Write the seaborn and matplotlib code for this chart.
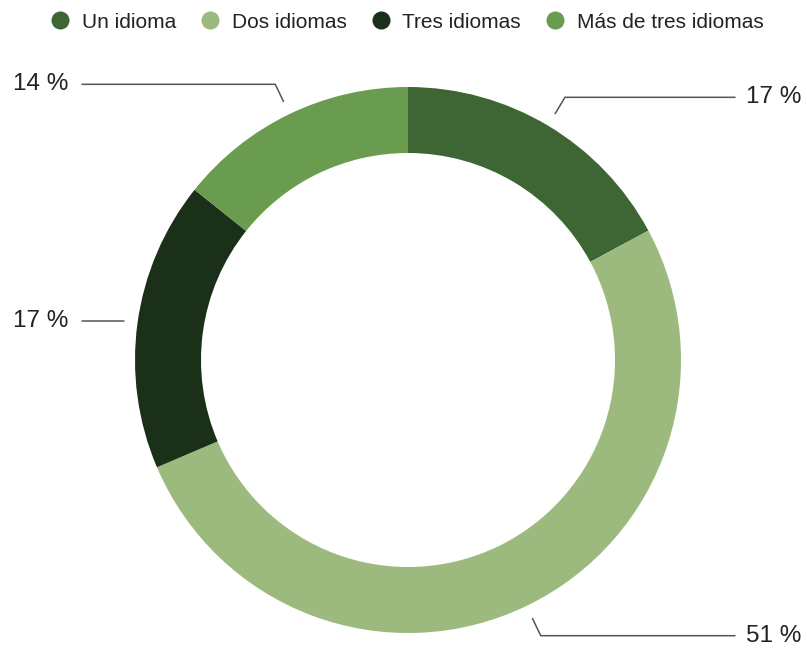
import numpy as np
import matplotlib.pyplot as plt
import seaborn as sns
from matplotlib.lines import Line2D

sns.set_theme(style="white")
plt.rcParams['font.family'] = ['Liberation Sans', 'DejaVu Sans']

# ── Data ──────────────────────────────────────────────
categories = ["Un idioma", "Dos idiomas", "Tres idiomas", "Más de tres idiomas"]
counts = [6, 18, 6, 5]
colors = ["#3e6534", "#9dba7e", "#1b3019", "#6a9c50"]

pct = [100 * c / sum(counts) for c in counts]
labels = [f"{round(p)} %" for p in pct]

# ── Figure in pixel coordinates ───────────────────────
W, H = 807, 650
fig = plt.figure(figsize=(W / 100, H / 100), dpi=100)
ax = fig.add_axes([0, 0, 1, 1])
ax.set_xlim(0, W)
ax.set_ylim(0, H)
ax.axis("off")

cx, cy, R = 408, H - 360, 273
wedges, _ = ax.pie(counts, colors=colors, startangle=90, counterclock=False,
                   center=(cx, cy), radius=R,
                   wedgeprops=dict(width=66, linewidth=0))
ax.set_xlim(0, W)
ax.set_ylim(0, H)
ax.set_aspect("equal")

# ── Leader lines + labels ─────────────────────────────
for w, lab in zip(wedges, labels):
    ang = np.deg2rad((w.theta1 + w.theta2) / 2)
    c, s = np.cos(ang), np.sin(ang)
    x1, y1 = cx + 287 * c, cy + 287 * s
    if abs(s) < 0.3:
        # nearly horizontal: straight line, no elbow
        x2, y2 = x1, y1
    else:
        x2, y2 = cx + 306 * c, cy + 306 * s
    if c > 0:
        xe, xt, ha = 735, 746, "left"
    else:
        xe, xt, ha = 82, 68, "right"
    ax.plot([x1, x2, xe], [y1, y2, y2], color="#555555", lw=1.1,
            solid_joinstyle="miter")
    ax.text(xt, y2, lab, ha=ha, va="center", fontsize=17.5, color="#222222")

# ── Legend ────────────────────────────────────────────
handles = [Line2D([0], [0], marker="o", linestyle="", markersize=13,
                  markerfacecolor=col, markeredgewidth=0) for col in colors]
fig.legend(handles, categories, loc="center", ncol=4,
           bbox_to_anchor=(407 / W, 1 - 22 / H), frameon=False,
           fontsize=15, handlelength=0.9, handletextpad=0.6,
           columnspacing=1.18, labelcolor="#222222")

fig.savefig("out.png", dpi=100)
